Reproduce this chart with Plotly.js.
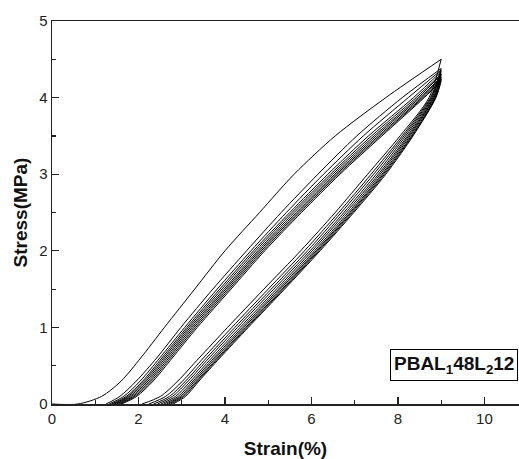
<!DOCTYPE html>
<html>
<head>
<meta charset="utf-8">
<script src="https://cdn.plot.ly/plotly-3.0.1.min.js"></script>
<style>html,body{margin:0;padding:0;background:#fff;}#chart{width:519px;height:459px;}</style>
</head>
<body>
<div id="chart"></div>
<script>
// Stress levels (MPa) at which each loading / unloading curve is sampled
const stressLevels = [0, 0.1, 0.3, 0.6, 1.0, 1.5, 2.0, 2.5, 3.0, 3.5, 4.0];
// Maximum strain (%) of each cycle
const peakStrain = 9.0;
// Peak stress (MPa) of each of the 10 cycles
const peakStress = [4.5, 4.38, 4.36, 4.34, 4.31, 4.3, 4.27, 4.26, 4.24, 4.22];
// Strain (%) of each loading curve at stressLevels
const loadStrain = [
  [0.60, 1.15, 1.60, 2.05, 2.60, 3.30, 4.00, 4.80, 5.60, 6.55, 7.72],
  [1.25, 1.57, 1.95, 2.42, 2.98, 3.72, 4.50, 5.30, 6.15, 7.05, 8.10],
  [1.32, 1.66, 2.04, 2.49, 3.07, 3.82, 4.60, 5.42, 6.28, 7.20, 8.24],
  [1.37, 1.72, 2.10, 2.54, 3.12, 3.88, 4.66, 5.50, 6.38, 7.32, 8.36],
  [1.41, 1.76, 2.14, 2.58, 3.16, 3.93, 4.71, 5.55, 6.44, 7.39, 8.42],
  [1.45, 1.80, 2.18, 2.62, 3.20, 3.98, 4.76, 5.60, 6.49, 7.45, 8.47],
  [1.49, 1.84, 2.22, 2.66, 3.24, 4.02, 4.80, 5.65, 6.54, 7.50, 8.51],
  [1.53, 1.88, 2.26, 2.70, 3.28, 4.06, 4.84, 5.69, 6.58, 7.55, 8.55],
  [1.57, 1.92, 2.30, 2.74, 3.32, 4.10, 4.88, 5.73, 6.62, 7.59, 8.58],
  [1.61, 1.96, 2.34, 2.78, 3.36, 4.14, 4.92, 5.77, 6.66, 7.63, 8.61]
];
// Strain (%) of each unloading curve at stressLevels
const unloadStrain = [
  [2.08, 2.51, 2.91, 3.40, 4.06, 4.90, 5.75, 6.55, 7.30, 8.05, 8.72],
  [2.24, 2.63, 3.02, 3.50, 4.16, 5.00, 5.84, 6.63, 7.38, 8.10, 8.75],
  [2.35, 2.72, 3.09, 3.57, 4.23, 5.07, 5.91, 6.69, 7.44, 8.14, 8.77],
  [2.44, 2.79, 3.15, 3.63, 4.29, 5.13, 5.97, 6.75, 7.50, 8.18, 8.79],
  [2.52, 2.86, 3.21, 3.69, 4.35, 5.19, 6.02, 6.80, 7.55, 8.22, 8.81],
  [2.59, 2.92, 3.26, 3.74, 4.40, 5.24, 6.07, 6.85, 7.59, 8.25, 8.83],
  [2.65, 2.97, 3.30, 3.78, 4.44, 5.28, 6.11, 6.89, 7.63, 8.28, 8.84],
  [2.70, 3.01, 3.34, 3.82, 4.48, 5.32, 6.14, 6.92, 7.66, 8.31, 8.86],
  [2.75, 3.05, 3.37, 3.85, 4.51, 5.35, 6.17, 6.95, 7.69, 8.33, 8.87],
  [2.80, 3.09, 3.40, 3.88, 4.54, 5.38, 6.20, 6.98, 7.72, 8.35, 8.88]
];
const xTicks = [0, 2, 4, 6, 8, 10];
const yTicks = [0, 1, 2, 3, 4, 5];
const sampleLabel = 'PBAL<sub>1</sub>48L<sub>2</sub>12';

const traces = [];
const lineStyle = {color: '#000', width: 1, shape: 'spline', smoothing: 0.8};
for (let i = 0; i < loadStrain.length; i++) {
  const lx = loadStrain[i].slice();
  const ly = stressLevels.slice();
  if (i === 0) { lx.unshift(0); ly.unshift(0); }
  traces.push({
    x: lx.concat([peakStrain]),
    y: ly.concat([peakStress[i]]),
    mode: 'lines', line: lineStyle, hoverinfo: 'skip', showlegend: false
  });
  traces.push({
    x: [peakStrain].concat(unloadStrain[i].slice().reverse()),
    y: [peakStress[i]].concat(stressLevels.slice().reverse()),
    mode: 'lines', line: lineStyle, hoverinfo: 'skip', showlegend: false
  });
}

const fam = 'Arial, "Liberation Sans", sans-serif';
const axisFont = {family: fam, size: 15, color: '#222'};
const layout = {
  width: 519, height: 459,
  margin: {l: 52, r: 0, t: 21, b: 55},
  paper_bgcolor: '#fff', plot_bgcolor: '#fff',
  showlegend: false,
  xaxis: {
    range: [0, 10.8], tickvals: xTicks, ticktext: xTicks.map(String),
    ticks: 'inside', ticklen: 7, tickwidth: 1.2, tickcolor: '#222',
    minor: {dtick: 1, ticks: 'inside', ticklen: 4, tickwidth: 1.2, tickcolor: '#222'},
    showline: true, linecolor: '#222', linewidth: 1.5, mirror: true,
    showgrid: false, zeroline: false, tickfont: axisFont,
    title: {text: '<b>Strain(%)</b>', font: {family: fam, size: 19, color: '#111'}, standoff: 22}
  },
  yaxis: {
    range: [0, 5], tickvals: yTicks, ticktext: yTicks.map(String),
    ticks: 'inside', ticklen: 7, tickwidth: 1.2, tickcolor: '#222',
    minor: {dtick: 0.5, ticks: 'inside', ticklen: 4, tickwidth: 1.2, tickcolor: '#222'},
    showline: true, linecolor: '#222', linewidth: 1.5, mirror: false,
    showgrid: false, zeroline: false, tickfont: axisFont,
    title: {text: '<b>Stress(MPa)</b>', font: {family: fam, size: 19, color: '#111'}, standoff: 6}
  },
  annotations: [{
    xref: 'paper', yref: 'paper', x: 0.998, y: 0.103, xanchor: 'right', yanchor: 'middle',
    text: '<b>' + sampleLabel + '</b>', showarrow: false,
    font: {family: fam, size: 19, color: '#111'},
    bordercolor: '#000', borderwidth: 1, borderpad: 3, bgcolor: '#fff'
  }]
};
Plotly.newPlot('chart', traces, layout, {staticPlot: true, displayModeBar: false});
</script>
</body>
</html>
